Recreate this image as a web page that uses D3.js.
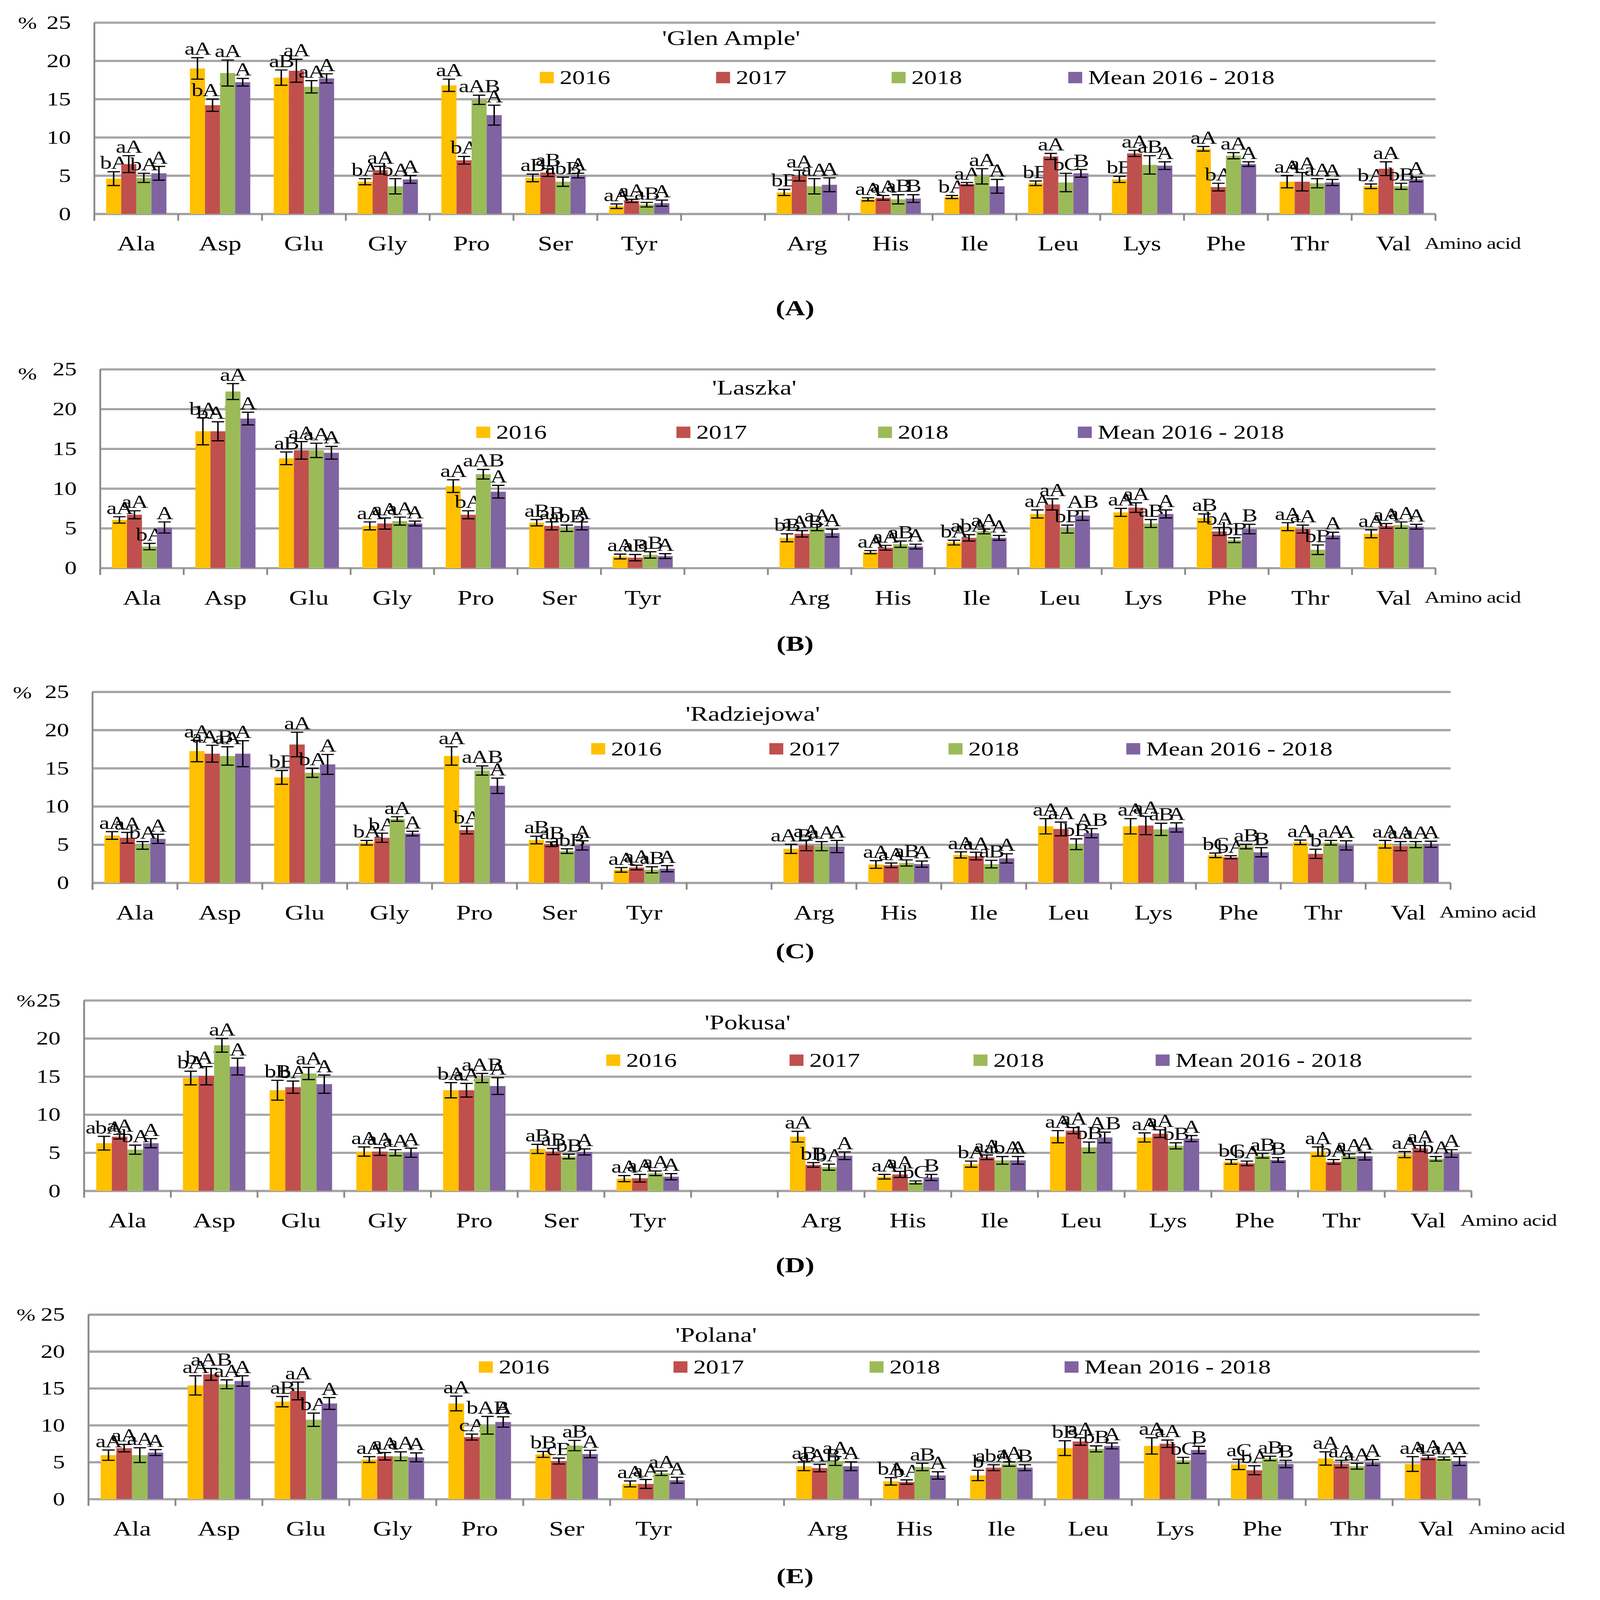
<!DOCTYPE html>
<html>
<head>
<meta charset="utf-8">
<script src="https://cdn.jsdelivr.net/npm/d3@7"></script>
<style>
  html, body { margin: 0; padding: 0; background: #fff; overflow: hidden; }
  svg { display: block; width: 100vw; height: 100vh; }
  text { font-family: "Liberation Serif", "DejaVu Serif", serif; fill: #000; }
</style>
</head>
<body>
<svg id="fig" viewBox="0 0 4357 5611" preserveAspectRatio="none"></svg>
<script>
// ---- data ----
const aminoAcids = ["Ala", "Asp", "Glu", "Gly", "Pro", "Ser", "Tyr",
                    "Arg", "His", "Ile", "Leu", "Lys", "Phe", "Thr", "Val"];
// one empty slot between the two groups of amino acids
const slots = ["Ala", "Asp", "Glu", "Gly", "Pro", "Ser", "Tyr", "",
               "Arg", "His", "Ile", "Leu", "Lys", "Phe", "Thr", "Val"];
const seriesNames = ["2016", "2017", "2018", "Mean 2016 - 2018"];
const seriesColors = ["#FFC000", "#C0504D", "#9BBB59", "#8064A2"];
const yTicks = [0, 5, 10, 15, 20, 25];
const panelTitles = ["'Glen Ample'", "'Laszka'", "'Radziejowa'", "'Pokusa'", "'Polana'"];
const panelTags = ["(A)", "(B)", "(C)", "(D)", "(E)"];

// 'Glen Ample'  rows: 2016, 2017, 2018, mean
const glenValues = [
  [4.6, 19.0, 17.8, 4.2, 16.8, 4.7, 1.0, 2.8, 1.9, 2.2, 4.0, 4.5, 8.5, 4.2, 3.6],
  [6.5, 14.2, 18.7, 5.7, 7.0, 5.4, 1.7, 5.0, 2.1, 3.9, 7.5, 7.9, 3.5, 4.2, 5.9],
  [4.7, 18.4, 16.6, 3.6, 14.9, 4.2, 1.2, 3.6, 1.9, 4.9, 4.1, 6.4, 7.6, 4.0, 3.6],
  [5.3, 17.2, 17.7, 4.5, 12.9, 5.0, 1.4, 3.8, 2.0, 3.6, 5.3, 6.3, 6.5, 4.1, 4.5]
];
const glenErrors = [
  [0.9, 1.4, 1.0, 0.4, 0.8, 0.5, 0.3, 0.4, 0.2, 0.2, 0.3, 0.4, 0.3, 0.8, 0.3],
  [1.1, 0.8, 1.5, 0.5, 0.5, 0.5, 0.2, 0.7, 0.3, 0.2, 0.4, 0.4, 0.5, 1.2, 0.9],
  [0.6, 1.7, 0.8, 1.0, 0.6, 0.6, 0.3, 1.0, 0.6, 1.0, 1.2, 1.2, 0.4, 0.6, 0.4],
  [0.9, 0.5, 0.6, 0.5, 1.3, 0.3, 0.4, 0.9, 0.5, 0.9, 0.5, 0.5, 0.3, 0.4, 0.3]
];
const glenLetters = [
  ["bA", "aA", "aB", "bA", "aA", "aB", "aA", "bB", "aA", "bA", "bB", "bB", "aA", "aA", "bA"],
  ["aA", "bAB", "aA", "aA", "bA", "aB", "aA", "aA", "aA", "aA", "aA", "aA", "bA", "aA", "aA"],
  ["bA", "aA", "aA", "bA", "aAB", "abB", "aB", "aA", "aB", "aA", "bC", "aB", "aA", "aA", "bB"],
  ["A", "A", "A", "A", "A", "A", "A", "A", "B", "A", "B", "A", "A", "A", "A"]
];

// 'Laszka'
const laszkaValues = [
  [6.05, 17.2, 13.8, 5.3, 10.3, 5.7, 1.45, 3.8, 2.0, 3.2, 6.8, 7.0, 6.3, 5.2, 4.3],
  [6.7, 17.2, 14.8, 5.6, 6.7, 5.3, 1.3, 4.3, 2.55, 3.8, 8.0, 7.6, 4.6, 4.9, 5.3],
  [2.7, 22.2, 14.8, 5.9, 11.8, 5.0, 1.65, 5.1, 3.0, 4.6, 4.9, 5.6, 3.5, 2.3, 5.4],
  [5.1, 18.8, 14.5, 5.6, 9.6, 5.3, 1.5, 4.4, 2.7, 3.8, 6.6, 6.8, 4.9, 4.1, 5.2]
];
const laszkaErrors = [
  [0.4, 1.7, 0.8, 0.5, 0.8, 0.4, 0.3, 0.5, 0.2, 0.3, 0.5, 0.5, 0.5, 0.5, 0.5],
  [0.5, 1.2, 1.1, 0.7, 0.5, 0.5, 0.4, 0.4, 0.3, 0.4, 0.7, 0.6, 0.5, 0.5, 0.3],
  [0.4, 1.0, 0.9, 0.5, 0.6, 0.4, 0.4, 0.4, 0.4, 0.3, 0.5, 0.5, 0.3, 0.6, 0.4],
  [0.7, 0.8, 0.8, 0.3, 0.8, 0.5, 0.3, 0.5, 0.3, 0.3, 0.6, 0.5, 0.6, 0.4, 0.3]
];
const laszkaLetters = [
  ["aA", "bA", "aB", "aA", "aA", "aB", "aA", "bB", "aA", "bA", "aA", "aA", "aB", "aA", "aA"],
  ["aA", "bAB", "aA", "aA", "bA", "aB", "aB", "aAB", "aA", "abA", "aA", "aA", "bA", "aA", "aA"],
  ["bA", "aA", "aA", "aA", "aAB", "abB", "aB", "aA", "aB", "aA", "bB", "aB", "bB", "bB", "aA"],
  ["A", "A", "A", "A", "A", "A", "A", "A", "A", "A", "AB", "A", "B", "A", "A"]
];

// 'Radziejowa'
const radzValues = [
  [6.2, 17.25, 13.8, 5.25, 16.6, 5.6, 1.7, 4.45, 2.4, 3.65, 7.4, 7.4, 3.6, 5.3, 5.05],
  [5.9, 16.9, 18.1, 5.9, 6.9, 5.05, 2.0, 4.9, 2.3, 3.5, 7.05, 7.5, 3.35, 3.8, 4.8],
  [4.9, 16.6, 14.4, 8.35, 14.7, 4.15, 1.7, 4.8, 2.6, 2.45, 5.05, 7.0, 4.75, 5.25, 5.0],
  [5.75, 16.9, 15.5, 6.45, 12.7, 4.9, 1.85, 4.75, 2.45, 3.2, 6.5, 7.25, 4.0, 4.9, 5.05]
];
const radzErrors = [
  [0.5, 1.4, 0.9, 0.3, 1.2, 0.5, 0.3, 0.6, 0.5, 0.4, 1.0, 1.0, 0.3, 0.3, 0.5],
  [0.7, 1.1, 1.6, 0.6, 0.5, 0.3, 0.3, 0.7, 0.3, 0.5, 0.9, 1.2, 0.2, 0.6, 0.6],
  [0.5, 1.2, 0.6, 0.3, 0.6, 0.3, 0.4, 0.6, 0.4, 0.5, 0.7, 0.8, 0.3, 0.3, 0.4],
  [0.6, 1.7, 1.3, 0.3, 1.0, 0.6, 0.4, 0.8, 0.4, 0.6, 0.6, 0.6, 0.6, 0.6, 0.4]
];
const radzLetters = [
  ["aA", "aA", "bB", "bA", "aA", "aB", "aA", "aAB", "aA", "aA", "aA", "aA", "bC", "aA", "aA"],
  ["aA", "aAB", "aA", "bA", "bA", "aB", "aA", "aA", "aA", "aA", "aA", "aA", "bA", "b", "aA"],
  ["bA", "aA", "bA", "aA", "aAB", "abB", "aB", "aA", "aB", "aB", "bB", "aB", "aB", "aA", "aA"],
  ["A", "A", "A", "A", "A", "A", "A", "A", "A", "A", "AB", "A", "B", "A", "A"]
];

// 'Pokusa'
const pokusaValues = [
  [6.25, 14.8, 13.2, 5.15, 13.2, 5.5, 1.6, 7.1, 1.85, 3.5, 7.1, 7.0, 3.8, 5.15, 4.75],
  [7.1, 15.1, 13.6, 5.15, 13.2, 5.15, 1.65, 3.4, 2.15, 4.4, 7.9, 7.5, 3.6, 3.8, 5.55],
  [5.4, 19.1, 15.4, 5.0, 14.8, 4.5, 2.3, 3.1, 1.1, 4.0, 5.7, 5.9, 4.6, 4.55, 4.2],
  [6.25, 16.3, 14.0, 5.0, 13.75, 5.1, 1.85, 4.6, 1.75, 4.0, 7.0, 6.85, 4.05, 4.55, 4.9]
];
const pokusaErrors = [
  [0.9, 0.9, 1.3, 0.6, 1.0, 0.6, 0.4, 0.7, 0.3, 0.4, 0.8, 0.6, 0.3, 0.6, 0.4],
  [0.3, 1.2, 0.8, 0.5, 0.9, 0.4, 0.5, 0.3, 0.4, 0.3, 0.4, 0.5, 0.3, 0.3, 0.4],
  [0.6, 0.9, 0.8, 0.4, 0.6, 0.3, 0.3, 0.4, 0.2, 0.5, 0.7, 0.4, 0.3, 0.3, 0.3],
  [0.6, 1.1, 1.2, 0.6, 1.1, 0.4, 0.4, 0.5, 0.4, 0.5, 0.7, 0.4, 0.3, 0.5, 0.5]
];
const pokusaLetters = [
  ["abA", "bA", "bB", "aA", "bA", "aB", "aA", "aA", "aA", "bA", "aA", "aA", "bC", "aA", "aA"],
  ["aA", "bAB", "bA", "aA", "aA", "aB", "aA", "bB", "aA", "aA", "aA", "aA", "bA", "bA", "aA"],
  ["bA", "aA", "aA", "aA", "aAB", "bB", "aA", "bA", "bC", "abA", "bB", "bB", "aB", "aA", "bA"],
  ["A", "A", "A", "A", "A", "A", "A", "A", "B", "A", "AB", "A", "B", "A", "A"]
];

// 'Polana'
const polanaValues = [
  [5.95, 15.4, 13.2, 5.35, 12.95, 6.05, 2.05, 4.45, 2.4, 3.2, 6.9, 7.2, 4.7, 5.5, 4.75],
  [6.9, 16.9, 14.65, 5.8, 8.4, 5.15, 2.05, 4.2, 2.3, 4.25, 7.8, 7.5, 3.9, 4.75, 5.65],
  [5.95, 15.55, 10.75, 5.8, 10.0, 7.25, 3.5, 5.15, 4.35, 4.75, 6.8, 5.25, 5.5, 4.45, 5.5],
  [6.3, 16.0, 12.95, 5.65, 10.45, 6.1, 2.55, 4.45, 3.2, 4.25, 7.2, 6.65, 4.75, 4.95, 5.15]
];
const polanaErrors = [
  [0.7, 1.3, 0.7, 0.4, 1.0, 0.4, 0.4, 0.6, 0.5, 0.7, 1.0, 1.1, 0.7, 0.9, 1.0],
  [0.5, 0.8, 1.2, 0.5, 0.4, 0.4, 0.6, 0.5, 0.3, 0.4, 0.5, 0.5, 0.6, 0.5, 0.3],
  [1.0, 0.6, 0.9, 0.6, 1.2, 0.7, 0.3, 0.6, 0.5, 0.3, 0.4, 0.4, 0.3, 0.4, 0.2],
  [0.4, 0.7, 0.8, 0.6, 0.7, 0.5, 0.4, 0.6, 0.5, 0.4, 0.4, 0.5, 0.5, 0.4, 0.6]
];
const polanaLetters = [
  ["aA", "aA", "aB", "aA", "aA", "bB", "aA", "aB", "bA", "b", "bB", "aA", "aC", "aA", "aA"],
  ["aA", "aAB", "aA", "aA", "cA", "cB", "aA", "aAB", "bA", "abA", "aA", "aA", "bA", "aA", "aA"],
  ["aA", "aA", "bA", "aA", "bAB", "aB", "aA", "aA", "aB", "aA", "bB", "bC", "aB", "aA", "aA"],
  ["A", "A", "A", "A", "A", "A", "A", "A", "A", "B", "A", "B", "B", "A", "A"]
];

// ---- layout of the five panels (pixels) ----
const layout = [
  { top: 79,   zero: 750,  left: 257, right: 3909, titleX: 1991, titleY: 158,  legY: 272,  legX: [1470, 1950, 2428, 2909], pctX: 49, pctDy: 0,  tagY: 1105 },
  { top: 1295, zero: 1992, left: 273, right: 3909, titleX: 2054, titleY: 1383, legY: 1516, legX: [1297, 1842, 2391, 2935], pctX: 49, pctDy: 14, tagY: 2282 },
  { top: 2426, zero: 3096, left: 252, right: 3950, titleX: 2050, titleY: 2527, legY: 2626, legX: [1610, 2095, 2583, 3067], pctX: 35, pctDy: 2,  tagY: 3360 },
  { top: 3508, zero: 4176, left: 229, right: 4007, titleX: 2036, titleY: 3609, legY: 3718, legX: [1651, 2150, 2651, 3147], pctX: 45, pctDy: 0,  tagY: 4462 },
  { top: 4610, zero: 5257, left: 241, right: 4029, titleX: 1950, titleY: 4706, legY: 4794, legX: [1304, 1834, 2368, 2899], pctX: 45, pctDy: 0,  tagY: 5552 }
];
const panelValues = [glenValues, laszkaValues, radzValues, pokusaValues, polanaValues];
const panelErrors = [glenErrors, laszkaErrors, radzErrors, pokusaErrors, polanaErrors];
const panelLetters = [glenLetters, laszkaLetters, radzLetters, pokusaLetters, polanaLetters];

const svg = d3.select('#fig');
svg.append('rect').attr('width', 4357).attr('height', 5611).attr('fill', '#fff');

const drawPanel = (k) => {
  const p = layout[k];
  const values = panelValues[k], errors = panelErrors[k], letters = panelLetters[k];
  const g = svg.append('g').attr('class', 'panel');

  const y = d3.scaleLinear().domain([0, 25]).range([p.zero, p.top]);
  const x0 = d3.scaleBand().domain(slots).range([p.left, p.right]);
  const bw = x0.bandwidth();
  const x1 = d3.scaleBand().domain(d3.range(seriesNames.length)).range([0.14 * bw, 0.86 * bw]);

  // gridlines (grey double line)
  const grid = g.append('g')
    .attr('transform', `translate(${p.left},0)`)
    .call(d3.axisLeft(y).tickValues(yTicks).tickSize(-(p.right - p.left)).tickFormat(''));
  grid.select('.domain').remove();
  grid.selectAll('.tick line').attr('stroke', '#8a8a8a').attr('stroke-width', 7);
  const grid2 = g.append('g')
    .attr('transform', `translate(${p.left},0)`)
    .call(d3.axisLeft(y).tickValues(yTicks).tickSize(-(p.right - p.left)).tickFormat(''));
  grid2.select('.domain').remove();
  grid2.selectAll('.tick line').attr('stroke', '#c4c4c4').attr('stroke-width', 2);

  // y axis line and labels
  g.append('line')
    .attr('x1', p.left).attr('x2', p.left)
    .attr('y1', y(25)).attr('y2', p.zero + 24)
    .attr('stroke', '#8a8a8a').attr('stroke-width', 5);
  g.selectAll('.ylab').data(yTicks).enter().append('text')
    .attr('class', 'ylab')
    .attr('x', p.left - 64).attr('y', d => y(d) + 22)
    .attr('text-anchor', 'end')
    .attr('font-size', 66)
    .text(d => d);
  g.append('text')
    .attr('x', p.pctX).attr('y', y(25) + 22 + p.pctDy)
    .attr('font-size', 62)
    .text('%');

  // x axis ticks at category boundaries
  const bounds = slots.map(s => x0(s)).concat([p.right]);
  g.selectAll('.xtick').data(bounds).enter().append('line')
    .attr('x1', d => d).attr('x2', d => d)
    .attr('y1', p.zero).attr('y2', p.zero + 24)
    .attr('stroke', '#8a8a8a').attr('stroke-width', 5);

  // category labels
  g.selectAll('.xlab').data(aminoAcids).enter().append('text')
    .attr('x', d => x0(d) + bw / 2)
    .attr('y', p.zero + 128)
    .attr('text-anchor', 'middle')
    .attr('font-size', 72)
    .text(d => d);
  g.append('text')
    .attr('x', p.right - 30).attr('y', p.zero + 122)
    .attr('font-size', 58)
    .attr('letter-spacing', -1)
    .text('Amino acid');

  // bars, error bars and letters
  seriesNames.forEach((s, i) => {
    const rows = aminoAcids.map((a, j) => ({ a, v: values[i][j], e: errors[i][j], t: letters[i][j] }));
    const cx = d => x0(d.a) + x1(i) + x1.bandwidth() / 2;
    g.selectAll(`.bar${i}`).data(rows).enter().append('rect')
      .attr('x', d => x0(d.a) + x1(i))
      .attr('y', d => y(d.v))
      .attr('width', x1.bandwidth())
      .attr('height', d => p.zero - y(d.v))
      .attr('fill', seriesColors[i]);
    const eb = g.selectAll(`.err${i}`).data(rows).enter().append('g');
    eb.append('line')
      .attr('x1', cx).attr('x2', cx)
      .attr('y1', d => y(d.v - d.e)).attr('y2', d => y(d.v + d.e));
    eb.append('line')
      .attr('x1', d => cx(d) - 17).attr('x2', d => cx(d) + 17)
      .attr('y1', d => y(d.v + d.e)).attr('y2', d => y(d.v + d.e));
    eb.append('line')
      .attr('x1', d => cx(d) - 17).attr('x2', d => cx(d) + 17)
      .attr('y1', d => y(d.v - d.e)).attr('y2', d => y(d.v - d.e));
    eb.selectAll('line').attr('stroke', '#000').attr('stroke-width', 4);
    g.selectAll(`.let${i}`).data(rows).enter().append('text')
      .attr('x', cx)
      .attr('y', d => y(d.v + d.e) - 10)
      .attr('text-anchor', 'middle')
      .attr('font-size', 64)
      .attr('letter-spacing', -2)
      .text(d => d.t);
  });

  // title
  g.append('text')
    .attr('x', p.titleX).attr('y', p.titleY)
    .attr('text-anchor', 'middle')
    .attr('font-size', 72)
    .text(panelTitles[k]);

  // legend
  seriesNames.forEach((s, i) => {
    g.append('rect')
      .attr('x', p.legX[i]).attr('y', p.legY - 20)
      .attr('width', 38).attr('height', 40)
      .attr('fill', seriesColors[i]);
    g.append('text')
      .attr('x', p.legX[i] + 54).attr('y', p.legY + 23)
      .attr('font-size', 69)
      .text(s);
  });

  // panel tag
  g.append('text')
    .attr('x', 2165).attr('y', p.tagY)
    .attr('text-anchor', 'middle')
    .attr('font-size', 76)
    .attr('font-weight', 'bold')
    .text(panelTags[k]);
};

layout.forEach((p, k) => drawPanel(k));
</script>
</body>
</html>
